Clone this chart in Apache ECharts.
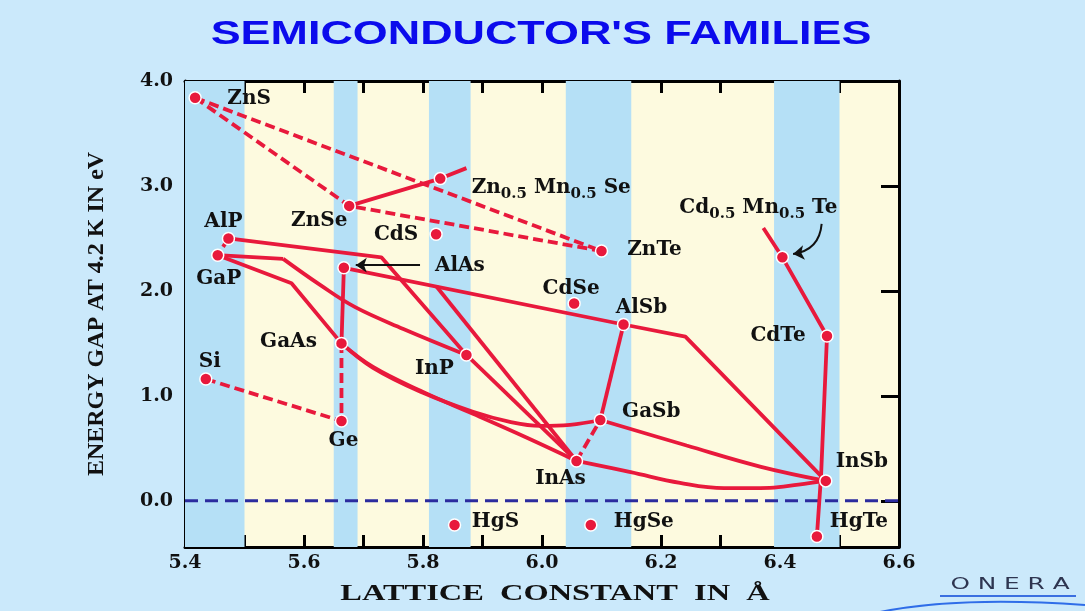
<!DOCTYPE html>
<html>
<head>
<meta charset="utf-8">
<title>Semiconductor's families</title>
<script src="https://cdn.jsdelivr.net/npm/echarts@6/dist/echarts.min.js"></script>
<style>
  html, body { margin: 0; padding: 0; background: #cbe9fb; }
  #chart { width: 1085px; height: 611px; }
</style>
</head>
<body>
<div id="chart"></div>
<script>
// compounds: lattice constant (A) and gap at 4.2 K (eV)
const names   = ['ZnS', 'ZnSe', 'CdS', 'AlP', 'GaP', 'AlAs', 'ZnTe', 'CdSe', 'AlSb', 'CdTe', 'GaAs', 'Si', 'InP', 'Ge', 'GaSb', 'InAs', 'InSb', 'HgS', 'HgSe', 'HgTe', 'ZnMnSe', 'CdMnTe'];
const lattice = [5.417, 5.676, 5.822, 5.473, 5.455, 5.667, 6.100, 6.054, 6.137, 6.479, 5.663, 5.435, 5.873, 5.663, 6.098, 6.058, 6.477, 5.853, 6.082, 6.462, 5.829, 6.404];
const gap     = [3.84, 2.81, 2.54, 2.50, 2.34, 2.22, 2.38, 1.88, 1.68, 1.57, 1.50, 1.16, 1.39, 0.76, 0.77, 0.38, 0.19, -0.23, -0.23, -0.34, 3.07, 2.32];

// kinks and bowing points of the alloy lines
const znMnSeEnd   = [5.873, 3.17];
const cdMnTeStart = [6.372, 2.60];
const hgCdTeMid   = [6.469, 0.24];
const alInPKink   = [5.730, 2.32];
const gaInPKink   = [5.565, 2.305];
const gaInPCurve  = [[5.627, 2.057], [5.686, 1.845], [5.767, 1.638]];
const gaAsPKink   = [5.579, 2.073];
const alInAsKink  = [5.823, 2.04];
const alInSbKink  = [6.241, 1.565];
const gaInAsCurve = [[5.716, 1.276], [5.800, 1.038], [5.884, 0.829], [5.971, 0.610]];
const gaAsSbCurve = [[5.716, 1.267], [5.800, 1.029], [5.884, 0.848], [5.946, 0.752], [5.997, 0.714], [6.047, 0.724]];
const gaInSbCurve = [[6.243, 0.527], [6.368, 0.324]];
const inAsSbCurve = [[6.149, 0.273], [6.232, 0.171], [6.306, 0.121], [6.383, 0.124], [6.431, 0.155]];

// blue bands behind the plot
const bandStart = [5.40, 5.65, 5.81, 6.04, 6.39];
const bandEnd   = [5.50, 5.69, 5.88, 6.15, 6.50];

// axes
const xTicks  = [5.4, 5.5, 5.6, 5.7, 5.8, 5.9, 6.0, 6.1, 6.2, 6.3, 6.4, 6.5, 6.6];
const xLabels = [5.4, 5.6, 5.8, 6.0, 6.2, 6.4, 6.6];
const yTicks  = [0, 1, 2, 3, 4];

function pt(n) {
  const i = names.indexOf(n);
  return [lattice[i], gap[i]];
}

const solidPaths = [
  [pt('ZnSe'), pt('ZnMnSe'), znMnSeEnd],
  [cdMnTeStart, pt('CdMnTe'), pt('CdTe')],
  [pt('CdTe'), hgCdTeMid, pt('HgTe')],
  [pt('AlP'), alInPKink, pt('InP')],
  [pt('GaP'), gaInPKink],
  [pt('GaP'), gaAsPKink, pt('GaAs')],
  [pt('AlAs'), pt('GaAs')],
  [pt('AlAs'), pt('AlSb'), alInSbKink, pt('InSb')],
  [alInAsKink, pt('InAs')],
  [pt('InP'), pt('InAs')],
  [pt('AlSb'), pt('GaSb')]
];
const curvedPaths = [
  [gaInPKink].concat(gaInPCurve, [pt('InP')]),
  [pt('GaAs')].concat(gaInAsCurve, [pt('InAs')]),
  [pt('GaAs')].concat(gaAsSbCurve, [pt('GaSb')]),
  [pt('GaSb')].concat(gaInSbCurve, [pt('InSb')]),
  [pt('InAs')].concat(inAsSbCurve, [pt('InSb')])
];
const dashedPaths = [
  [pt('ZnS'), pt('ZnSe'), pt('ZnTe')],
  [pt('ZnS'), pt('ZnTe')],
  [pt('Si'), pt('Ge'), pt('GaAs')],
  [pt('AlP'), pt('GaP')],
  [pt('InAs'), pt('GaSb')]
];

const RED = '#e8193c';
const serif = 'DejaVu Serif';

// label centre relative to the dot, px
const labelOffset = {
  ZnS: [54, 1], ZnSe: [-30, 15], CdS: [-40, 1], AlP: [-5, -17], GaP: [1, 24],
  AlAs: [116, -2], ZnTe: [53, -1], CdSe: [-3, -15], AlSb: [18, -17], CdTe: [-49, 0],
  GaAs: [-53, -2], Si: [4, -17], InP: [-32, 14], Ge: [2, 20], GaSb: [51, -8],
  InAs: [-16, 18], InSb: [36, -19], HgS: [41, -3], HgSe: [53, -3], HgTe: [42, -15],
  ZnMnSe: [111, 9], CdMnTe: [-24, -50]
};
const labelText = {
  ZnMnSe: 'Zn{s|0.5} Mn{s|0.5} Se',
  CdMnTe: 'Cd{s|0.5} Mn{s|0.5} Te'
};

const series = [];

// bands + zero line
series.push({
  type: 'line',
  z: 1,
  silent: true,
  symbol: 'none',
  data: [[5.4, 0], [6.6, 0]],
  lineStyle: { color: '#2b2b9e', width: 3, type: [13, 7] },
  markArea: {
    silent: true,
    itemStyle: { color: '#b5e0f6' },
    data: bandStart.map((s, i) => [{ xAxis: s }, { xAxis: bandEnd[i] }])
  }
});

solidPaths.forEach(p => series.push({
  type: 'line', z: 3, silent: true, symbol: 'none', data: p,
  lineStyle: { color: RED, width: 3.8 }
}));
curvedPaths.forEach(p => series.push({
  type: 'line', z: 3, silent: true, symbol: 'none', smooth: 0.4, data: p,
  lineStyle: { color: RED, width: 3.8 }
}));
dashedPaths.forEach(p => series.push({
  type: 'line', z: 3, silent: true, symbol: 'none', data: p,
  lineStyle: { color: RED, width: 3.8, type: [10, 5] }
}));

// arrows
series.push({
  type: 'lines',
  coordinateSystem: 'cartesian2d',
  z: 4,
  symbol: ['none', 'arrow'],
  symbolSize: 11,
  lineStyle: { color: '#111', width: 2, opacity: 1 },
  data: [
    { coords: [[5.795, 2.245], [5.687, 2.245]] },
    { coords: [[6.470, 2.638], [6.422, 2.352]], lineStyle: { curveness: 0.4 } }
  ]
});

// dots + names
series.push({
  type: 'scatter',
  z: 5,
  symbolSize: 12,
  itemStyle: { color: RED, borderColor: '#fff', borderWidth: 1.5, opacity: 1 },
  data: names.map((n, i) => ({
    value: [lattice[i], gap[i]],
    label: {
      show: true,
      position: 'inside',
      offset: labelOffset[n],
      formatter: labelText[n] || n
    }
  })),
  label: {
    fontFamily: serif,
    fontWeight: 'bold',
    fontSize: 20,
    color: '#111',
    rich: {
      s: { fontFamily: serif, fontWeight: 'bold', fontSize: 15, color: '#111', padding: [13, 0, 0, 0] }
    }
  }
});

const axisLine = { show: true, onZero: false, lineStyle: { color: '#000', width: 3 } };

const option = {
  backgroundColor: '#cbe9fb',
  animation: false,
  grid: { left: 185, top: 81, width: 714, height: 466, show: true, backgroundColor: '#fdfadf', borderWidth: 0 },
  xAxis: [
    {
      type: 'value', min: 5.4, max: 6.6, position: 'bottom',
      axisLine: axisLine,
      splitLine: { show: false },
      axisTick: { inside: true, length: 12, lineStyle: { color: '#000', width: 3 }, customValues: xTicks },
      axisLabel: {
        customValues: xLabels, formatter: v => v.toFixed(1), margin: 7,
        fontFamily: serif, fontWeight: 'bold', fontSize: 19, color: '#111'
      }
    },
    {
      type: 'value', min: 5.4, max: 6.6, position: 'top',
      axisLine: axisLine,
      splitLine: { show: false },
      axisTick: { inside: true, length: 12, lineStyle: { color: '#000', width: 3 }, customValues: xTicks },
      axisLabel: { show: false }
    }
  ],
  yAxis: [
    {
      type: 'value', min: -0.44, max: 4, position: 'left',
      name: 'ENERGY GAP AT 4.2 K IN eV',
      nameLocation: 'middle', nameGap: 76,
      nameTextStyle: { fontFamily: 'Liberation Serif', fontWeight: 'bold', fontSize: 24, color: '#111' },
      axisLine: axisLine,
      splitLine: { show: false },
      axisTick: { inside: true, length: 18, lineStyle: { color: '#000', width: 3 }, customValues: yTicks },
      axisLabel: {
        customValues: yTicks, formatter: v => v.toFixed(1), margin: 12,
        fontFamily: serif, fontWeight: 'bold', fontSize: 19, color: '#111'
      }
    },
    {
      type: 'value', min: -0.44, max: 4, position: 'right',
      axisLine: axisLine,
      splitLine: { show: false },
      axisTick: { inside: true, length: 18, lineStyle: { color: '#000', width: 3 }, customValues: yTicks },
      axisLabel: { show: false }
    }
  ],
  graphic: [
    {
      type: 'text', x: 541, y: 35, scaleX: 1.36,
      style: {
        text: "SEMICONDUCTOR'S FAMILIES", align: 'center', verticalAlign: 'middle',
        fontFamily: 'Liberation Sans', fontWeight: 'bold', fontSize: 33, fill: '#0b0bec'
      }
    },
    {
      type: 'text', x: 555, y: 594, scaleX: 1.41,
      style: {
        text: 'LATTICE  CONSTANT  IN  Å', align: 'center', verticalAlign: 'middle',
        fontFamily: 'Liberation Serif', fontWeight: 'bold', fontSize: 23, fill: '#111'
      }
    },
    {
      type: 'text', x: 1010, y: 585, scaleX: 1.65,
      style: {
        text: 'O N E R A', align: 'center', verticalAlign: 'middle',
        fontFamily: 'DejaVu Sans', fontWeight: 'normal', fontSize: 15, fill: '#2e3550'
      }
    },
    {
      type: 'line',
      shape: { x1: 940, y1: 596, x2: 1076, y2: 596 },
      style: { stroke: '#3b6fe0', lineWidth: 2 }
    },
    {
      type: 'bezierCurve',
      shape: { x1: 880, y1: 612, cpx1: 960, cpy1: 596, x2: 1085, y2: 605 },
      style: { stroke: '#2f6de8', lineWidth: 2, fill: 'none' }
    }
  ],
  series: series
};

const chart = echarts.init(document.getElementById('chart'), null, { renderer: 'canvas' });
chart.setOption(option);
</script>
</body>
</html>
